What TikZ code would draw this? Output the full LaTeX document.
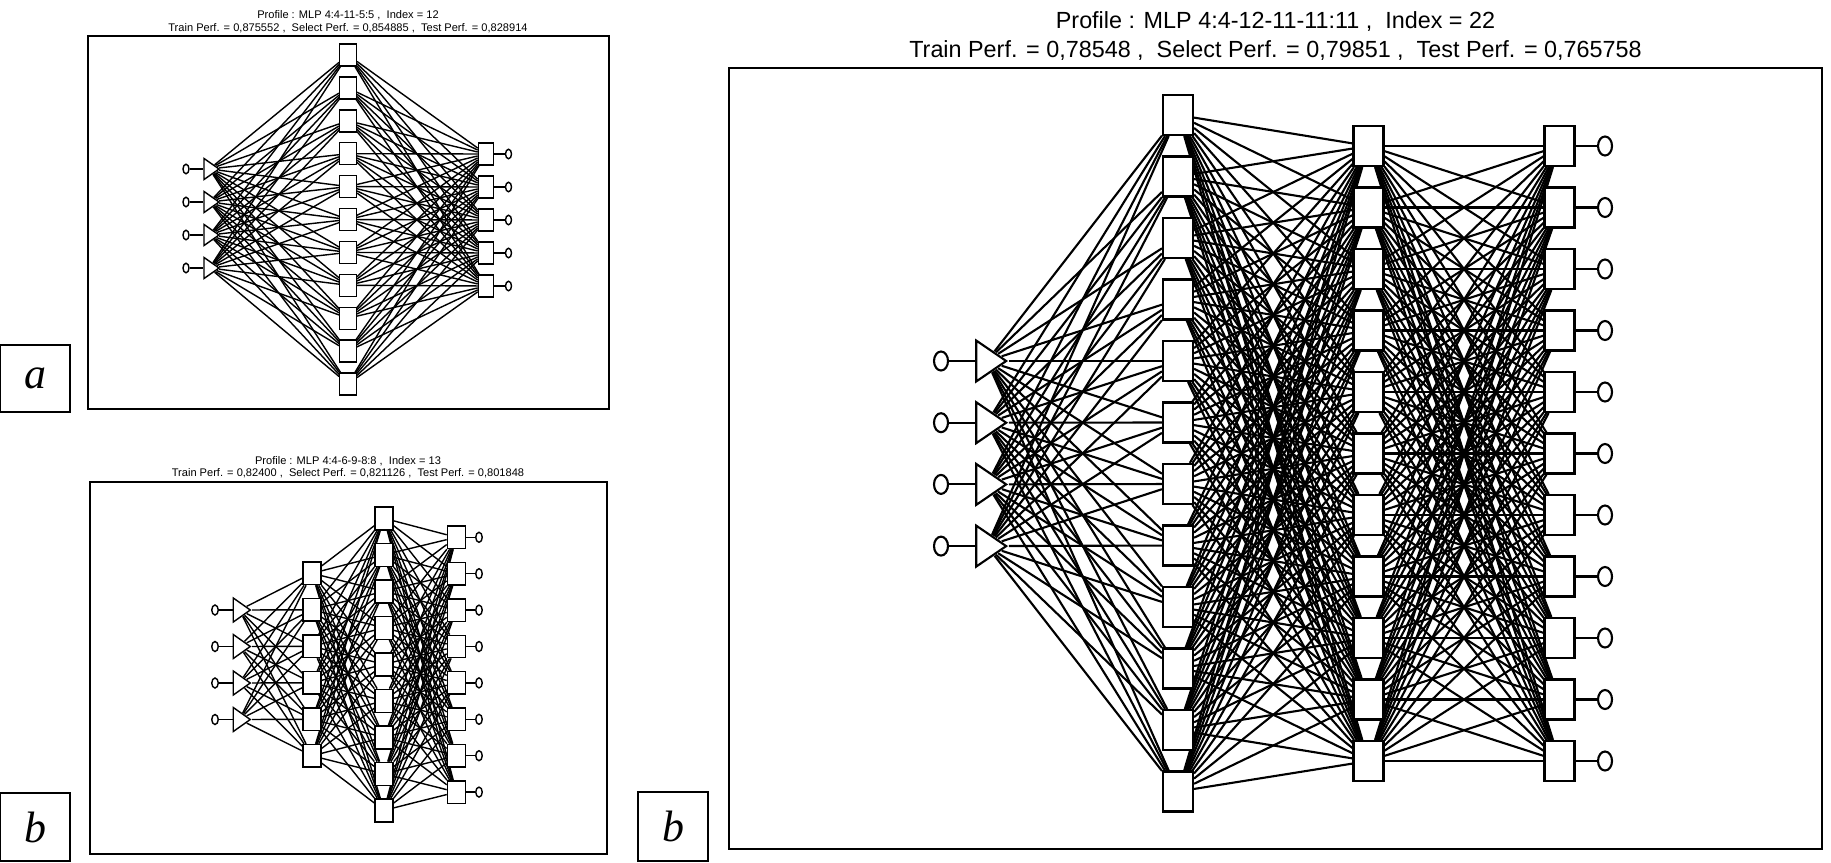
\documentclass[tikz,border=0pt]{standalone}
\usepackage{fontspec}
\setmainfont{Liberation Sans}
\newfontfamily\tagfont{Liberation Serif}
\usetikzlibrary{backgrounds, shapes.geometric}

\tikzset{
  unit/.style 2 args={draw, fill=white, rectangle, inner sep=0pt, minimum width=#1, minimum height=#2},
  feed/.style 2 args={draw, fill=white, isosceles triangle, isosceles triangle stretches, inner sep=0pt, minimum width=#2, minimum height=#1},
  pin/.style 2 args={draw, fill=white, ellipse, inner sep=0pt, minimum width=#1, minimum height=#2},
  thinlink/.style={line width=0.8pt},
  boldlink/.style={line width=1.2pt},
  frame/.style={draw, line width=1pt},
  title/.style={align=center, inner sep=0pt},
  tag/.style={draw, line width=0.7pt, inner sep=0pt, font=\tagfont\itshape\fontsize{25}{25}\selectfont},
}

\begin{document}
\begin{tikzpicture}[x=0.02cm, y=-0.02cm]
\useasboundingbox (0,0) rectangle (1831,862);

% panel a
\node[tag, minimum width=1.4cm, minimum height=1.34cm] (atag) at (35,378.5) {a};
\draw[frame] (88,36) rectangle (609,409);
\node[title, font=\fontsize{6.3}{7.4}\selectfont] (atitle) at (348,21.5)
  {Profile : MLP 4:4-11-5:5 ,\ \ Index = 12\\Train Perf. = 0,875552 ,\ \ Select Perf. = 0,854885 ,\ \ Test Perf. = 0,828914};
\begin{scope}[thinlink]
\foreach \k in {1,...,4} {
  \node[pin={0.12cm}{0.19cm}] (ain\k) at (186,{169+33*(\k-1)}) {};
  \node[feed={0.3cm}{0.42cm}] (atri\k) at (209.5,{169+33*(\k-1)}) {};
  \draw (ain\k) -- (atri\k);
}
\foreach \k in {1,...,11}
  \node[unit={0.33cm}{0.44cm}] (ahid\k) at (348,{55+32.9*(\k-1)}) {};
\foreach \k in {1,...,5} {
  \node[unit={0.3cm}{0.44cm}] (aout\k) at (486,{154+33*(\k-1)}) {};
  \node[pin={0.12cm}{0.19cm}] (aend\k) at (508.5,{154+33*(\k-1)}) {};
  \draw (aout\k) -- (aend\k);
}
\end{scope}
\begin{scope}[on background layer]
  \foreach \i in {1,...,4} \foreach \j in {1,...,11} \draw[thinlink] (atri\i) -- (ahid\j);
  \foreach \i in {1,...,11} \foreach \j in {1,...,5} \draw[thinlink] (ahid\i) -- (aout\j);
\end{scope}

% panel b, small
\node[tag, minimum width=1.4cm, minimum height=1.36cm] (btag) at (35,827) {b};
\draw[frame] (90,482) rectangle (607,854);
\node[title, font=\fontsize{6.3}{7}\selectfont] (btitle) at (348,467)
  {Profile : MLP 4:4-6-9-8:8 ,\ \ Index = 13\\Train Perf. = 0,82400 ,\ \ Select Perf. = 0,821126 ,\ \ Test Perf. = 0,801848};
\begin{scope}[thinlink]
\foreach \k in {1,...,4} {
  \node[pin={0.13cm}{0.2cm}] (bin\k) at (215,{610+36.5*(\k-1)}) {};
  \node[feed={0.34cm}{0.48cm}] (btri\k) at (239.5,{610+36.5*(\k-1)}) {};
  \draw (bin\k) -- (btri\k);
}
\foreach \k in {1,...,6}
  \node[unit={0.36cm}{0.45cm}] (bhidA\k) at (312,{573.3+36.5*(\k-1)}) {};
\foreach \k in {1,...,9}
  \node[unit={0.36cm}{0.46cm}] (bhidB\k) at (384,{518.3+36.5*(\k-1)}) {};
\foreach \k in {1,...,8} {
  \node[unit={0.36cm}{0.45cm}] (bout\k) at (456.4,{537.3+36.4*(\k-1)}) {};
  \node[pin={0.13cm}{0.2cm}] (bend\k) at (479,{537.3+36.4*(\k-1)}) {};
  \draw (bout\k) -- (bend\k);
}
\end{scope}
\begin{scope}[on background layer]
  \foreach \i in {1,...,4} \foreach \j in {1,...,6} \draw[thinlink] (btri\i) -- (bhidA\j);
  \foreach \i in {1,...,6} \foreach \j in {1,...,9} \draw[thinlink] (bhidA\i) -- (bhidB\j);
  \foreach \i in {1,...,9} \foreach \j in {1,...,8} \draw[thinlink] (bhidB\i) -- (bout\j);
\end{scope}

% panel b, large
\node[tag, minimum width=1.4cm, minimum height=1.38cm] (ctag) at (673,826.5) {b};
\draw[frame] (729,68) rectangle (1822,849);
\node[title, font=\fontsize{13.3}{17}\selectfont] (ctitle) at (1275.5,36)
  {Profile : MLP 4:4-12-11-11:11 ,\ \ Index = 22\\Train Perf. = 0,78548 ,\ \ Select Perf. = 0,79851 ,\ \ Test Perf. = 0,765758};
\begin{scope}[boldlink]
\foreach \k in {1,...,4} {
  \node[pin={0.28cm}{0.38cm}] (cin\k) at (941,{361+61.7*(\k-1)}) {};
  \node[feed={0.6cm}{0.82cm}] (ctri\k) at (987,{361+61.7*(\k-1)}) {};
  \draw (cin\k) -- (ctri\k);
}
\foreach \k in {1,...,12}
  \node[unit={0.6cm}{0.8cm}] (chidA\k) at (1178,{115+61.5*(\k-1)}) {};
\foreach \k in {1,...,11}
  \node[unit={0.6cm}{0.8cm}] (chidB\k) at (1368.5,{146+61.5*(\k-1)}) {};
\foreach \k in {1,...,11} {
  \node[unit={0.6cm}{0.8cm}] (cout\k) at (1559.5,{146+61.5*(\k-1)}) {};
  \node[pin={0.28cm}{0.38cm}] (cend\k) at (1605,{146+61.5*(\k-1)}) {};
  \draw (cout\k) -- (cend\k);
}
\end{scope}
\begin{scope}[on background layer]
  \foreach \i in {1,...,4} \foreach \j in {1,...,12} \draw[boldlink] (ctri\i) -- (chidA\j);
  \foreach \i in {1,...,12} \foreach \j in {1,...,11} \draw[boldlink] (chidA\i) -- (chidB\j);
  \foreach \i in {1,...,11} \foreach \j in {1,...,11} \draw[boldlink] (chidB\i) -- (cout\j);
\end{scope}
\end{tikzpicture}
\end{document}
